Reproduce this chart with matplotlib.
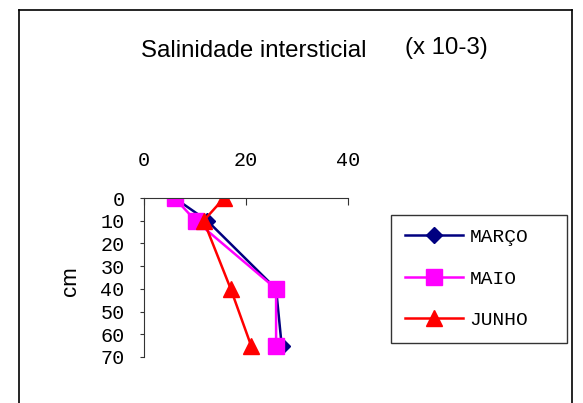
import matplotlib
matplotlib.use("Agg")
import matplotlib.pyplot as plt
from matplotlib.lines import Line2D

# depth (cm) and salinity (x 10-3)
depth = [0, 10, 40, 65]
marco = [6, 12.4, 25.9, 27.0]
maio = [6, 10.1, 25.9, 25.9]
junho = [15.7, 11.7, 17.0, 21.0]
series_names = ["MARÇO", "MAIO", "JUNHO"]
x_ticks = [0, 20, 40]
y_ticks = [0, 10, 20, 30, 40, 50, 60, 70]

W, H = 583, 403
fig = plt.figure(figsize=(W / 100, H / 100), dpi=100)
mono = "Liberation Mono"
sans = "Liberation Sans"

# outer frame (open at the bottom), pixel coords from top-left
for xs, ys in [([19, 19], [H, 10]), ([19, 572], [10, 10]), ([572, 572], [10, H])]:
    fig.add_artist(Line2D([x / W for x in xs], [1 - y / H for y in ys],
                          color="black", lw=1.2))

ax = fig.add_axes([144 / W, 1 - 357 / H, (348 - 144) / W, (357 - 198) / H])
ax.plot(marco, depth, color="#000080", marker="D", ms=8, lw=1.8, label=series_names[0])
ax.plot(maio, depth, color="#ff00ff", marker="s", ms=11, lw=1.8, label=series_names[1])
ax.plot(junho, depth, color="#ff0000", marker="^", ms=11, lw=1.8, label=series_names[2])

ax.set_xlim(0, 40)
ax.set_ylim(70, 0)
ax.set_xticks(x_ticks)
ax.set_yticks(y_ticks)
ax.xaxis.tick_top()
ax.spines["bottom"].set_visible(False)
ax.spines["right"].set_visible(False)
ax.spines["top"].set_color("#333333")
ax.spines["left"].set_color("#333333")
ax.tick_params(axis="x", direction="in", length=5, pad=20, labelsize=14.5, colors="#333333",
               labelcolor="black")
ax.tick_params(axis="y", direction="out", length=3, pad=11, labelsize=14.5, colors="#333333",
               labelcolor="black")
for lbl in ax.get_xticklabels() + ax.get_yticklabels():
    lbl.set_family(mono)
ax.set_ylabel("cm", family=sans, fontsize=16)
ax.yaxis.set_label_coords(-0.309, 0.478)
ax.set_facecolor("none")

fig.text(254 / W, 1 - 51 / H, "Salinidade intersticial", family=sans, fontsize=17.3,
         ha="center", va="center")
fig.text(446 / W, 1 - 48 / H, "(x 10-3)", family=sans, fontsize=17.3,
         ha="center", va="center")

leg = fig.legend(loc="upper left",
                 bbox_to_anchor=(391 / W, 1 - 343 / H, (567 - 391) / W, (343 - 215) / H),
                 mode="expand", prop={"family": mono, "size": 14}, frameon=True,
                 fancybox=False, edgecolor="black", borderpad=0.7, labelspacing=1.22,
                 handlelength=3.0, handletextpad=0.35, borderaxespad=0)
leg.get_frame().set_linewidth(1.0)

fig.savefig("out.png", dpi=100)
